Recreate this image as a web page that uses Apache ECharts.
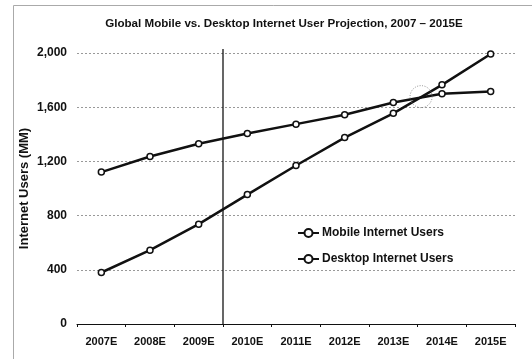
<!DOCTYPE html>
<html><head><meta charset="utf-8">
<script src="https://cdn.jsdelivr.net/npm/echarts@6/dist/echarts.min.js"></script>
<style>html,body{margin:0;padding:0;background:#fff}#c{width:532px;height:359px}</style>
</head><body><div id="c"></div>
<script>
const categories = ['2007E','2008E','2009E','2010E','2011E','2012E','2013E','2014E','2015E'];
const mobileUsers = [380, 545, 737, 955, 1170, 1376, 1555, 1765, 1993];
const desktopUsers = [1121, 1236, 1330, 1406, 1475, 1544, 1635, 1700, 1716];
const yTicks = [0, 400, 800, 1200, 1600, 2000];
const dividerAfter = 3;          // vertical line between 2009E and 2010E
const crossover = [7.07, 1678];  // highlighted crossover (category-index units)
const titleText = 'Global Mobile vs. Desktop Internet User Projection, 2007 \u2013 2015E';
const yTitle = 'Internet Users (MM)';

const FONT = '"Liberation Sans", Arial, sans-serif';
const chart = echarts.init(document.getElementById('c'), null, {renderer: 'canvas'});
chart.setOption({
  animation: false,
  backgroundColor: '#fff',
  title: {
    text: titleText, left: 279, top: 13, textAlign: 'center',
    textStyle: {fontFamily: FONT, fontSize: 11.6, fontWeight: 'bold', color: '#111'}
  },
  graphic: [
    {type: 'rect', shape: {x: 13.5, y: 5.5, width: 530, height: 370},
     style: {fill: 'none', stroke: '#aaa', lineWidth: 1}, silent: true, z: -1}
  ],
  legend: {
    orient: 'vertical', left: 292, top: 222, itemGap: 14,
    itemWidth: 21, itemHeight: 10,
    textStyle: {fontFamily: FONT, fontSize: 12, fontWeight: 'bold', color: '#111', padding: [0, 0, 0, -2]},
    data: ['Mobile Internet Users', 'Desktop Internet Users']
  },
  grid: {left: 77, right: 17, top: 53, bottom: 35},
  xAxis: [
    {
      type: 'category', data: categories, boundaryGap: true,
      axisLine: {lineStyle: {color: '#111', width: 1}},
      axisTick: {show: true, inside: false, length: 3, lineStyle: {color: '#111'}},
      axisLabel: {fontFamily: FONT, fontSize: 11, fontWeight: 'bold', color: '#111', margin: 12}
    },
    {type: 'value', min: 0, max: categories.length, show: false}
  ],
  yAxis: {
    type: 'value', min: 0, max: 2000, interval: 400,
    name: yTitle, nameLocation: 'middle', nameGap: 46, nameRotate: 90, nameMoveOverlap: false,
    nameTextStyle: {fontFamily: FONT, fontSize: 13, fontWeight: 'bold', color: '#111'},
    axisLine: {show: false}, axisTick: {show: false},
    axisLabel: {fontFamily: FONT, fontSize: 12, fontWeight: 'bold', color: '#111', margin: 10,
      formatter: v => yTicks.includes(v) ? v.toLocaleString('en-US') : ''},
    splitLine: {lineStyle: {color: '#999', type: [2, 2], width: 1}}
  },
  series: [
    {
      name: 'Mobile Internet Users', type: 'line', data: mobileUsers,
      symbol: 'circle', symbolSize: 6, showSymbol: true,
      lineStyle: {color: '#111', width: 2.5},
      itemStyle: {color: '#fff', borderColor: '#111', borderWidth: 1.5},
      z: 3
    },
    {
      name: 'Desktop Internet Users', type: 'line', data: desktopUsers,
      symbol: 'circle', symbolSize: 6, showSymbol: true,
      lineStyle: {color: '#111', width: 2.5},
      itemStyle: {color: '#fff', borderColor: '#111', borderWidth: 1.5},
      z: 3
    },
    {
      name: 'divider', type: 'line', xAxisIndex: 1, clip: false,
      data: [[dividerAfter, 0], [dividerAfter, 2030]],
      symbol: 'none', lineStyle: {color: '#000', width: 1.2}, z: 2, silent: true
    },
    {
      name: 'crossover', type: 'scatter', xAxisIndex: 1,
      data: [crossover], symbol: 'circle', symbolSize: 22,
      itemStyle: {color: 'rgba(0,0,0,0)', borderColor: '#777', borderWidth: 1, borderType: [1, 1.5]},
      z: 4, silent: true
    }
  ]
});
</script></body></html>
